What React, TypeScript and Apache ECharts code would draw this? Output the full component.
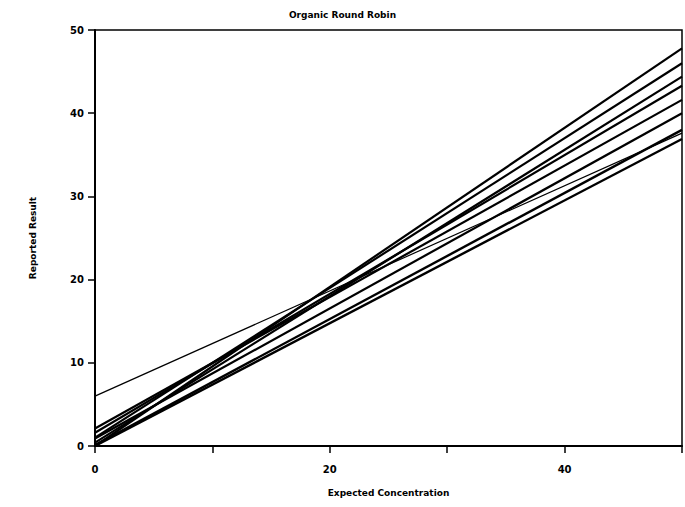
import React, { useEffect, useRef } from "react";
import * as echarts from "echarts";

const xPoints = [0, 50];
const seriesNames = ["Lab A", "Lab B", "Lab C", "Lab D", "Lab E", "Lab F", "Lab G", "Lab H", "Lab I"];
const startValues = [0.0, 1.0, 0.4, 1.6, 2.1, 0.9, 6.0, 0.1, 0.0];
const endValues = [47.8, 46.0, 44.4, 43.3, 41.6, 40.0, 37.6, 38.0, 36.9];
const lineWidths = [2.2, 2.2, 2.2, 2.2, 2.2, 2.2, 1.2, 2.4, 2.4];
const xTickLabels = ["0", "20", "40"];

export default function App() {
  const ref = useRef<HTMLDivElement>(null);
  useEffect(() => {
    if (!ref.current) return;
    const chart = echarts.init(ref.current, null, { renderer: "svg" });
    const font = { fontFamily: "DejaVu Sans", fontWeight: "bold" as const, color: "#000" };
    chart.setOption({
      animation: false,
      backgroundColor: "#fff",
      title: {
        text: "Organic Round Robin",
        left: "center",
        top: 5,
        textStyle: { ...font, fontSize: 9 },
      },
      grid: {
        left: 95,
        right: 2,
        top: 30,
        bottom: 61,
        show: true,
        borderColor: "#000",
        borderWidth: 1.5,
      },
      xAxis: {
        type: "value",
        min: 0,
        max: 50,
        interval: 10,
        name: "Expected Concentration",
        nameLocation: "middle",
        nameGap: 42,
        nameTextStyle: { ...font, fontSize: 9 },
        axisLine: { show: true, lineStyle: { color: "#000", width: 2 } },
        axisTick: { show: true, length: 7, lineStyle: { color: "#000", width: 1.5 } },
        axisLabel: {
          ...font,
          fontSize: 10,
          margin: 18,
          formatter: (v: number) => (xTickLabels.includes(String(v)) ? String(v) : ""),
        },
        splitLine: { show: false },
      },
      yAxis: {
        type: "value",
        min: 0,
        max: 50,
        interval: 10,
        name: "Reported Result",
        nameLocation: "middle",
        nameGap: 58,
        nameRotate: 90,
        nameTextStyle: { ...font, fontSize: 9 },
        axisLine: { show: true, lineStyle: { color: "#000", width: 2 } },
        axisTick: { show: true, length: 7, lineStyle: { color: "#000", width: 1.5 } },
        axisLabel: { ...font, fontSize: 10, margin: 11 },
        splitLine: { show: false },
      },
      series: seriesNames.map((name, i) => ({
        name,
        type: "line",
        showSymbol: false,
        symbol: "none",
        data: [
          [xPoints[0], startValues[i]],
          [xPoints[1], endValues[i]],
        ],
        lineStyle: { color: "#000", width: lineWidths[i] },
      })),
    });
    return () => chart.dispose();
  }, []);
  return (
    <div
      ref={ref}
      style={{ position: "fixed", left: 0, top: 0, width: 685, height: 507 }}
    />
  );
}
